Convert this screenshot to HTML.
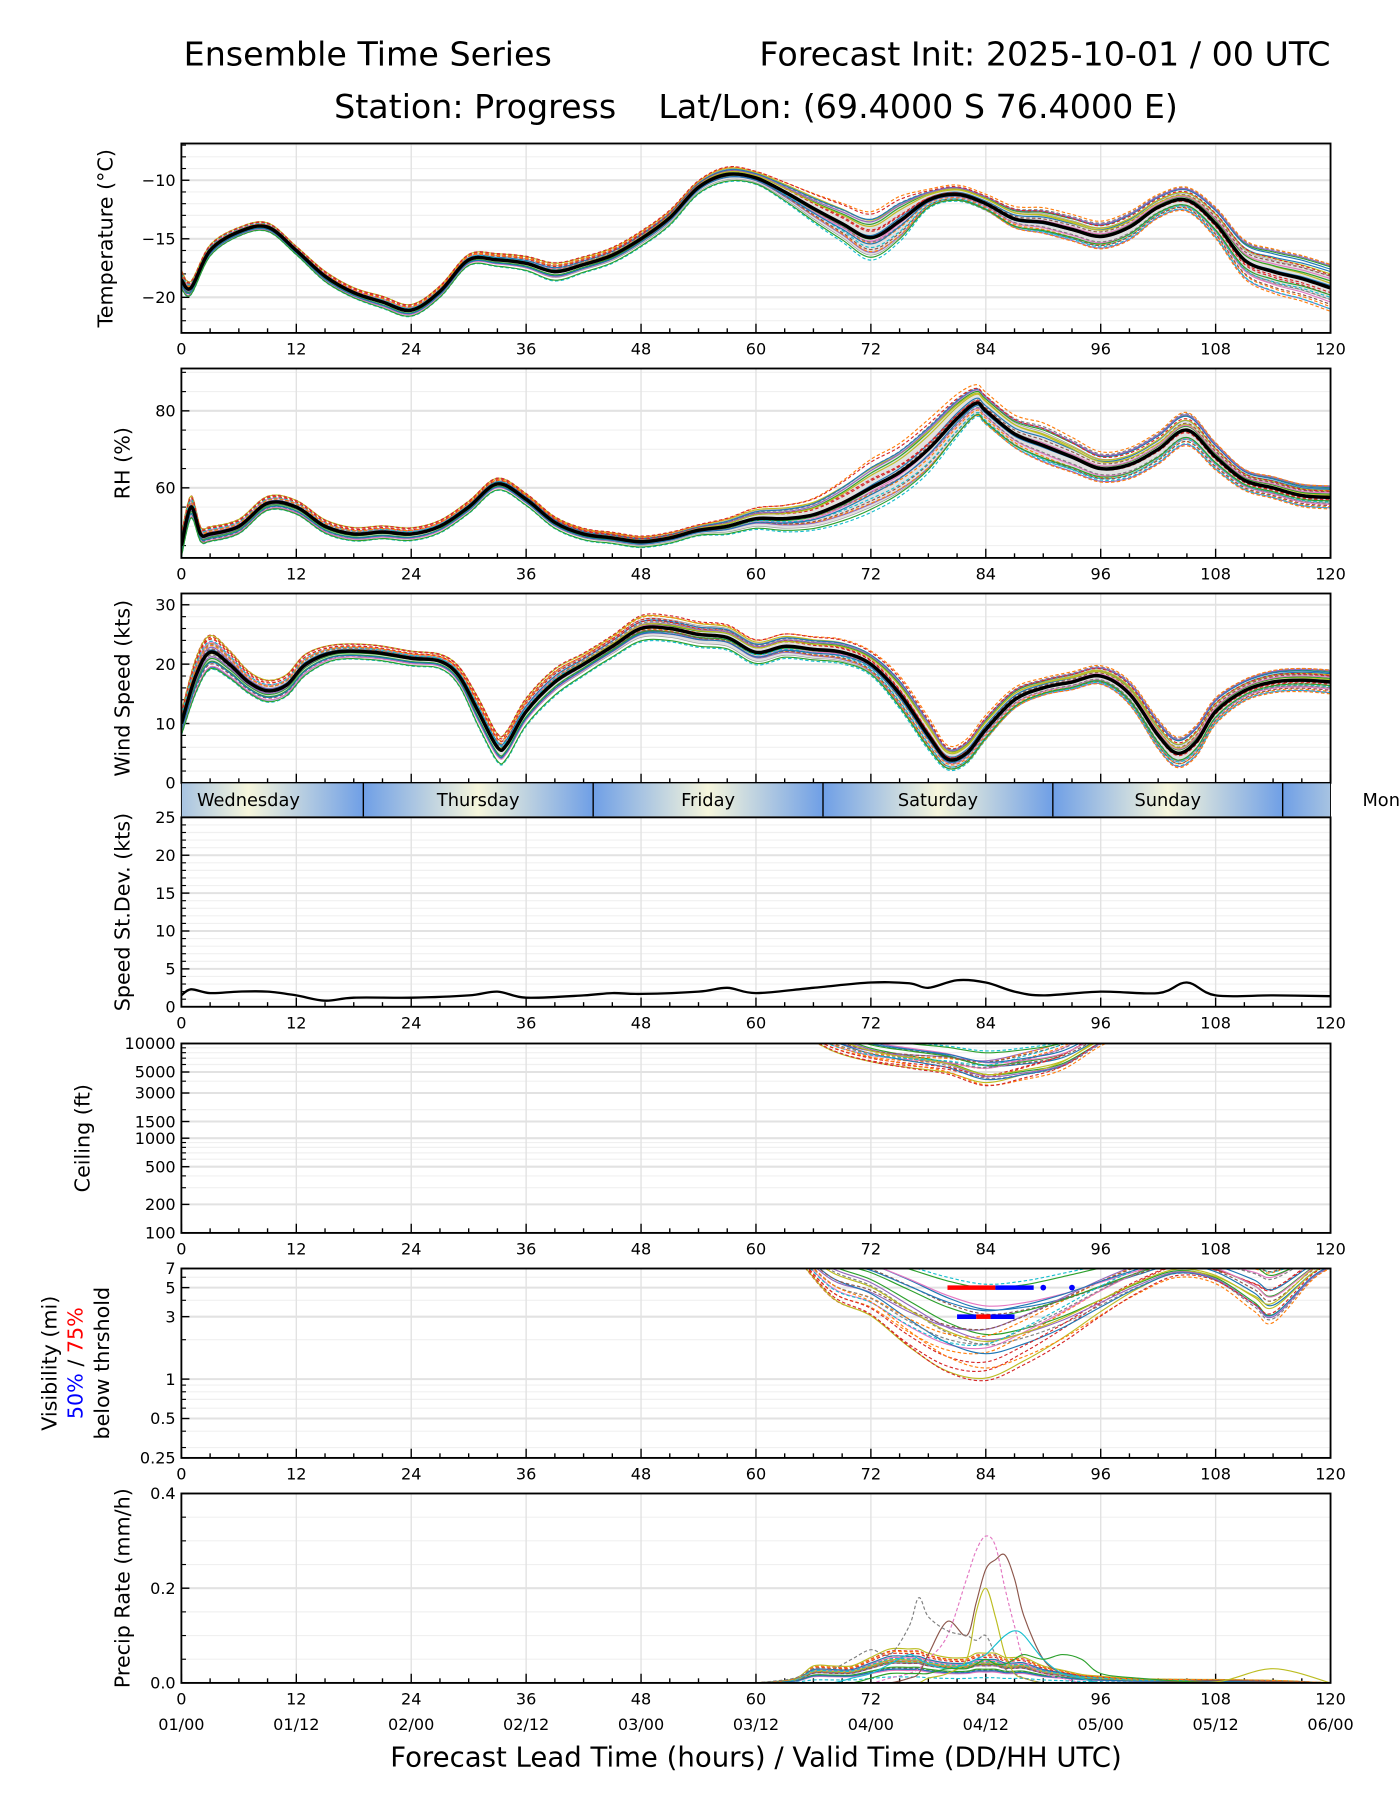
<!DOCTYPE html>
<html><head><meta charset="utf-8"><style>
html,body{margin:0;padding:0;background:#fff;}
svg{display:block;font-family:"DejaVu Sans","Liberation Sans",sans-serif;}
</style></head><body>
<svg id="chart" width="1400" height="1800" viewBox="0 0 1219.5 1568" preserveAspectRatio="none" xmlns="http://www.w3.org/2000/svg">
<rect x="0" y="0" width="1225" height="1575" fill="#fff"/>
<text x="160" y="57" font-size="29">Ensemble Time Series</text>
<text x="1159" y="57" font-size="29" text-anchor="end">Forecast Init: 2025-10-01 / 00 UTC</text>
<text x="291" y="103" font-size="29">Station: Progress</text>
<text x="1026" y="103" font-size="29" text-anchor="end">Lat/Lon: (69.4000 S 76.4000 E)</text>
<g id="root"></g>
</svg>
<script>
// ---------- DATA ----------
const xTicks=[0,12,24,36,48,60,72,84,96,108,120];
const validLabels=["01/00","01/12","02/00","02/12","03/00","03/12","04/00","04/12","05/00","05/12","06/00"];
const dayNames=["Wednesday","Thursday","Friday","Saturday","Sunday","Monday"];
const dayCenters=[7,31,55,79,103,127];

const tempHours=[0,1,3,6,9,12,15,18,21,24,27,30,33,36,39,42,45,48,51,54,57,60,63,66,69,72,75,78,81,84,87,90,93,96,99,102,105,108,111,114,117,120];
const tempMean=[-18.5,-19.2,-16,-14.4,-14,-16,-18.2,-19.6,-20.4,-21.1,-19.5,-16.8,-16.8,-17.1,-17.8,-17.2,-16.4,-15.0,-13.2,-10.6,-9.5,-9.8,-11,-12.4,-13.7,-14.9,-13.5,-11.7,-11.2,-12.0,-13.3,-13.6,-14.2,-14.8,-14.0,-12.3,-11.7,-13.7,-16.8,-17.8,-18.4,-19.2];
const tempSpread=[0.8,0.6,0.5,0.4,0.4,0.4,0.5,0.5,0.6,0.6,0.6,0.6,0.7,0.8,1.0,0.9,0.9,0.9,0.9,0.8,0.9,0.8,1.2,1.8,2.4,3.0,2.8,1.2,1.0,1.0,1.3,1.5,1.5,1.5,1.5,1.2,1.2,1.5,1.8,2.0,2.0,2.0];

const rhHours=[0,1,2,3,6,9,12,15,18,21,24,27,30,33,36,39,42,45,48,51,54,57,60,63,66,69,72,75,78,81,83,84,87,90,93,96,99,102,105,108,111,114,117,120];
const rhMean=[45,55,48,48,50,56,55,50,48,48.5,48,50,55,61,57,51,48,47,46,47,49,50,52,52,53,56,60,64,70,78,82,80,74,71,68,65,66,70,75,68,62,60,58,57.5];
const rhSpread=[3,3,2,2,2,2,2,2,2,2,2,2,2,2,2,2,2,2,2,2,2,3,4,5,6,8,10,10,10,8,6,6,6,7,6,5,5,5,5,4,3,3,3,3];

const wsHours=[0,1.5,3,5,7,9,11,13,16,20,24,27,29,31,33,34,36,39,42,45,48,51,54,57,60,63,66,69,72,75,78,80,82,84,87,90,93,96,99,102,104,106,108,111,114,117,120];
const wsMean=[10,18,22,20,17,15.5,16.5,20,22,22,21,20.5,18,12,6,6.5,12,17,20,23,26,26,25,24.5,22,23,22.5,22,20,15,8,4,5,9,14,16,17,18,15,8,5,7,12,15.5,17,17.3,17];
const wsSpread=[2,3,3,2.5,2,2,2,2,1.5,1.5,1.5,1.5,2,3,3,3,3,3,2.5,2.5,3,3,3,3,3,3,3,3,3,4,4,3,3,3,2.5,2,2,2,2.5,3,3,3,2.5,2,2,2,2];

const sdHours=[0,1,3,6,9,12,15,18,24,30,33,36,42,45,48,54,57,60,66,72,76,78,81,84,87,90,96,102,105,108,114,120];
const sdMean=[1.5,2.3,1.8,2,2,1.5,0.8,1.2,1.2,1.5,2,1.2,1.5,1.8,1.7,2,2.5,1.8,2.5,3.2,3.1,2.5,3.5,3.2,2,1.5,2,1.8,3.2,1.5,1.5,1.4];

const ceilHours=[64,68,72,76,80,84,88,92,96,100];
const ceilLow=[14000,8000,6000,5000,4200,3000,3600,4800,9000,14000];
const ceilHigh=[20000,16000,12000,11000,10500,10000,11000,13000,18000,20000];

const visHours=[64,68,72,76,80,84,88,92,96,100,104,108,112,114,118,120];
const visLow=[9,4,2.8,1.5,0.9,0.75,1.0,1.5,2.5,4,5.5,5,3,2.5,5.5,7];
const visHigh=[12,10,9,8,7,6.5,7,8,9,10,11,10,10,9,10,10];
const visBars5=[[80,85,"red"],[85,89,"blue"]];
const visBars3=[[81,83,"blue"],[83,84.5,"red"],[84.5,87,"blue"]];
const visDots=[[90,5],[93,5]];

const prHours=[60,64,66,68,70,72,74,76,77,78,80,82,83,84,85,86,87,88,90,92,94,96,100,108,114,120];
const prBase=[0,0.005,0.02,0.02,0.02,0.03,0.04,0.04,0.04,0.035,0.03,0.03,0.035,0.035,0.035,0.03,0.03,0.03,0.02,0.015,0.01,0.008,0.005,0.004,0.003,0];
const prPink=[0,0,0,0,0,0,0.01,0.02,0.03,0.05,0.1,0.22,0.28,0.31,0.29,0.2,0.12,0.05,0.02,0.01,0,0,0,0,0,0];
const prBrown=[0,0,0,0,0,0,0,0.01,0.02,0.06,0.13,0.1,0.17,0.24,0.26,0.27,0.22,0.14,0.05,0.02,0.01,0,0,0.005,0.003,0];
const prOlive=[0,0,0,0,0,0,0,0,0,0.01,0.02,0.05,0.15,0.2,0.14,0.06,0.02,0.01,0,0,0,0,0,0.002,0.03,0];
const prGray=[0,0.01,0.03,0.03,0.05,0.07,0.06,0.12,0.18,0.14,0.11,0.1,0.09,0.1,0.06,0.03,0.02,0.01,0,0,0,0,0,0,0,0];
const prCyan=[0,0,0,0,0.01,0.02,0.04,0.06,0.05,0.04,0.03,0.04,0.05,0.06,0.08,0.1,0.11,0.1,0.05,0.02,0.01,0,0,0,0,0];
const prGreen=[0,0,0,0,0,0.01,0.02,0.02,0.02,0.02,0.03,0.03,0.04,0.05,0.04,0.04,0.05,0.06,0.05,0.06,0.05,0.02,0.01,0,0,0];

// ---------- LAYOUT ----------
const X0=158,X1=1159;
const panels={temp:[125,290],rh:[321,486],ws:[517,682],sd:[712,877],ceil:[909,1074],vis:[1105,1270],pr:[1301,1466]};
const tab=["#1f77b4","#ff7f0e","#2ca02c","#d62728","#9467bd","#8c564b","#e377c2","#7f7f7f","#bcbd22","#17becf"];
const wA=[-0.9,0.8,-0.4,1.0,0.3,-0.7,0.6,-0.2,0.95,-1.0,0.1,0.5,-0.55,0.75,-0.3,0.2,-0.85,0.45,-0.1,0.65,-0.6,0.35,-0.95,0.85];
const wB=[0.7,-0.8,0.9,-0.3,-0.9,0.5,-0.6,1.0,0.2,-0.4,0.8,-1.0,0.3,-0.2,0.95,-0.7,0.4,-0.5,0.6,-0.9,0.1,1.0,-0.3,0.55];
const NS="http://www.w3.org/2000/svg";
const root=document.getElementById('root');
function mk(tag,attrs,parent){const e=document.createElementNS(NS,tag);for(const k in attrs)e.setAttribute(k,attrs[k]);(parent||root).appendChild(e);return e;}
const xs=h=>X0+h*(X1-X0)/120;
function lin(lo,hi,t,b){return v=>b-(v-lo)/(hi-lo)*(b-t);}
function logs(lo,hi,t,b){return v=>b-(Math.log10(v)-Math.log10(lo))/(Math.log10(hi)-Math.log10(lo))*(b-t);}
function smooth(pts){if(!pts.length)return"";let d="M"+pts[0][0].toFixed(1)+","+pts[0][1].toFixed(1);
for(let i=0;i<pts.length-1;i++){const p0=pts[Math.max(0,i-1)],p1=pts[i],p2=pts[i+1],p3=pts[Math.min(pts.length-1,i+2)];
const c1=[p1[0]+(p2[0]-p0[0])/6,p1[1]+(p2[1]-p0[1])/6],c2=[p2[0]-(p3[0]-p1[0])/6,p2[1]-(p3[1]-p1[1])/6];
d+="C"+c1[0].toFixed(1)+","+c1[1].toFixed(1)+" "+c2[0].toFixed(1)+","+c2[1].toFixed(1)+" "+p2[0].toFixed(1)+","+p2[1].toFixed(1);}return d;}
const defs=mk('defs',{});
function clip(id,t,b){const c=mk('clipPath',{id:id},defs);mk('rect',{x:X0,y:t,width:X1-X0,height:b-t},c);}

function frame(name,t,b,yt,ys,fmt,minorT,labelX,labelLines,xlabels){
  const g=mk('g',{});
  
  
  for(const v of minorT){const y=ys(v);mk('line',{x1:X0,x2:X1,y1:y,y2:y,stroke:'#f0f0f0','stroke-width':1},g);mk('line',{x1:X0,x2:X0+4,y1:y,y2:y,stroke:'#000','stroke-width':1},g);}
  for(const h of xTicks){mk('line',{x1:xs(h),x2:xs(h),y1:t,y2:b,stroke:'#e2e2e2','stroke-width':1.2},g);}
  for(const v of yt){const y=ys(v);mk('line',{x1:X0,x2:X1,y1:y,y2:y,stroke:'#e2e2e2','stroke-width':1.8},g);
    mk('line',{x1:X0,x2:X0+7,y1:y,y2:y,stroke:'#000','stroke-width':1.2},g);
    const tx=mk('text',{x:X0-5,y:y+5,'font-size':14,'text-anchor':'end'},g);tx.textContent=fmt(v);
    
    }
  for(let h=0;h<=120;h+=3){const L=h%12==0?8:4;mk('line',{x1:xs(h),x2:xs(h),y1:b,y2:b-L,stroke:'#000','stroke-width':1.2},g);}
  if(xlabels){for(const h of xTicks){const tx=mk('text',{x:xs(h),y:b+19,'font-size':14,'text-anchor':'middle'},g);tx.textContent=h;
    
    }}
  const lab=mk('text',{transform:`translate(${labelX},${(t+b)/2}) rotate(-90)`,'font-size':18,'text-anchor':'middle'},g);
  
  
  labelLines(lab);
  return g;
}
function border(t,b){mk('rect',{x:X0,y:t,width:X1-X0,height:b-t,fill:'none',stroke:'#000','stroke-width':1.6});}
function members(name,hours,fn,ys,cid,n){
  const g=mk('g',{'clip-path':`url(#${cid})`});
  
  
  for(let i=0;i<n;i++){
    const pts=hours.map((h,k)=>[xs(h),ys(fn(i,k,h))]);
    const p=mk('path',{d:smooth(pts),fill:'none',stroke:tab[i%10],'stroke-width':1,'stroke-dasharray':i%2?'3,2':'none'},g);
    
    
  }
  return g;
}
function ensemble(name,hours,mean,spread,ys,cid){
  const wt=(i,h)=>wA[i]*(1-h/120)+wB[i]*(h/120);
  const up=hours.map((h,k)=>[xs(h),ys(mean[k]+0.5*spread[k])]);
  const dn=hours.map((h,k)=>[xs(h),ys(mean[k]-0.5*spread[k])]).reverse();
  const band=mk('path',{d:smooth(up)+"L"+smooth(dn).slice(1)+"Z",fill:'#d9d9d9','fill-opacity':0.8,stroke:'#999','stroke-width':0.6,'clip-path':`url(#${cid})`});
  
  
  members(name,hours,(i,k,h)=>mean[k]+spread[k]*wt(i,h),ys,cid,24);
  const m=mk('path',{d:smooth(hours.map((h,k)=>[xs(h),ys(mean[k])])),fill:'none',stroke:'#000','stroke-width':3,'clip-path':`url(#${cid})`});
  
  
}
const rng=(a,b,s)=>{const r=[];for(let v=a;v<=b+1e-9;v+=s)r.push(+v.toFixed(3));return r;};

// Temperature
{const [t,b]=panels.temp;const ys=lin(-23.04,-6.86,t,b);clip('cT',t,b);
frame('temperature',t,b,[-10,-15,-20],ys,v=>"\u2212"+Math.abs(v),rng(-22,-7,1),98,l=>l.textContent="Temperature (°C)",true);
ensemble('temperature',tempHours,tempMean,tempSpread,ys,'cT');border(t,b);}
// RH
{const [t,b]=panels.rh;const ys=lin(41.8,91.0,t,b);clip('cR',t,b);
frame('rh',t,b,[60,80],ys,v=>v,rng(45,90,5),113,l=>l.textContent="RH (%)",true);
ensemble('rh',rhHours,rhMean,rhSpread,ys,'cR');border(t,b);}
// Wind
{const [t,b]=panels.ws;const ys=lin(0,31.9,t,b);clip('cW',t,b);
frame('wind-speed',t,b,[0,10,20,30],ys,v=>v,rng(2,30,2),113,l=>l.textContent="Wind Speed (kts)",false);
ensemble('wind-speed',wsHours,wsMean,wsSpread,ys,'cW');border(t,b);}
// Day bar
{const t=682,b=712;const g=mk('g',{});


const gr=mk('linearGradient',{id:'dayG',x1:0,x2:1,y1:0,y2:0},defs);
mk('stop',{offset:'0','stop-color':'#6f9fe6'},gr);mk('stop',{offset:'0.5','stop-color':'#f6f6dc'},gr);mk('stop',{offset:'1','stop-color':'#6f9fe6'},gr);
clip('cD',t,b);
const gc=mk('g',{'clip-path':'url(#cD)'},g);
dayCenters.forEach((c,i)=>{const r=mk('rect',{x:xs(c-12),y:t,width:xs(c+12)-xs(c-12),height:b-t,fill:'url(#dayG)'},gc);


if(c-12>0)mk('line',{x1:xs(c-12),x2:xs(c-12),y1:t,y2:b,stroke:'#000','stroke-width':1.2},gc);});
dayCenters.forEach((c,i)=>{const tx=mk('text',{x:xs(c),y:t+20,'font-size':15.5,'text-anchor':'middle'},g);tx.textContent=dayNames[i];

});
mk('rect',{x:X0,y:t,width:X1-X0,height:b-t,fill:'none',stroke:'#000','stroke-width':0.8},g);}
// StDev
{const [t,b]=panels.sd;const ys=lin(0,25,t,b);clip('cS',t,b);
frame('speed-stdev',t,b,[0,5,10,15,20,25],ys,v=>v,rng(1,24,1),113,l=>l.textContent="Speed St.Dev. (kts)",true);
const p=mk('path',{d:smooth(sdHours.map((h,k)=>[xs(h),ys(sdMean[k])])),fill:'none',stroke:'#000','stroke-width':2,'clip-path':'url(#cS)'});


border(t,b);}
// Ceiling
{const [t,b]=panels.ceil;const ys=logs(100,10000,t,b);clip('cC',t,b);
frame('ceiling',t,b,[10000,5000,3000,1500,1000,500,200,100],ys,v=>v,[200,300,400,500,600,700,800,900,2000,3000,4000,5000,6000,7000,8000,9000],78,l=>l.textContent="Ceiling (ft)",true);
members('ceiling',ceilHours,(i,k)=>{const w=(wA[i]+1)/2*(1-k/10)+(wB[i]+1)/2*(k/10);return Math.pow(10,Math.log10(ceilHigh[k])+w*(Math.log10(ceilLow[k])-Math.log10(ceilHigh[k])));},ys,'cC',30);
border(t,b);}
// Visibility
{const [t,b]=panels.vis;const ys=logs(0.25,7,t,b);clip('cV',t,b);
frame('visibility',t,b,[7,5,3,1,0.5,0.25],ys,v=>v,[0.3,0.4,0.6,0.7,0.8,0.9,2,4,6],49,l=>{l.textContent="Visibility (mi)";},true);
const l2=mk('text',{transform:`translate(72,${(t+b)/2}) rotate(-90)`,'font-size':18,'text-anchor':'middle'});


const s1=mk('tspan',{fill:'blue'},l2);s1.textContent="50%";const s2=mk('tspan',{},l2);s2.textContent=" / ";const s3=mk('tspan',{fill:'red'},l2);s3.textContent="75%";
const l3=mk('text',{transform:`translate(95,${(t+b)/2}) rotate(-90)`,'font-size':18,'text-anchor':'middle'});l3.textContent="below thrshold";


members('visibility',visHours,(i,k)=>{const w=(wA[i]+1)/2*(1-k/16)+(wB[i]+1)/2*(k/16);return Math.pow(10,Math.log10(visHigh[k])+w*(Math.log10(visLow[k])-Math.log10(visHigh[k])));},ys,'cV',30);
for(const [a,z,c] of visBars5){const ln=mk('line',{x1:xs(a),x2:xs(z),y1:ys(5),y2:ys(5),stroke:c,'stroke-width':4});

}
for(const [a,z,c] of visBars3){const ln=mk('line',{x1:xs(a),x2:xs(z),y1:ys(3),y2:ys(3),stroke:c,'stroke-width':4});

}
for(const [h,v] of visDots){const d=mk('circle',{cx:xs(h),cy:ys(v),r:2.5,fill:'blue'});

}
border(t,b);}
// Precip
{const [t,b]=panels.pr;const ys=lin(0,0.4,t,b);clip('cP',t,b);
frame('precip',t,b,[0,0.2,0.4],ys,v=>v.toFixed(1),rng(0.05,0.35,0.05),113,l=>l.textContent="Precip Rate (mm/h)",true);
members('precip',prHours,(i,k)=>prBase[k]*((wA[i]+1.2)/1.5+(wB[i]+1)*0.3),ys,'cP',22);
const named=[[prPink,tab[6],1],[prBrown,tab[5],0],[prOlive,tab[8],0],[prGray,tab[7],1],[prCyan,tab[9],0],[prGreen,tab[2],0]];
const gN=mk('g',{'clip-path':'url(#cP)'});
for(const [arr,c,d] of named){const p=mk('path',{d:smooth(prHours.map((h,k)=>[xs(h),ys(arr[k])])),fill:'none',stroke:c,'stroke-width':1,'stroke-dasharray':d?'3,2':'none'},gN);

}
border(t,b);
xTicks.forEach((h,i)=>{const tx=mk('text',{x:xs(h),y:b+41,'font-size':14,'text-anchor':'middle'});tx.textContent=validLabels[i];

});
const xt=mk('text',{x:(X0+X1)/2,y:1539,'font-size':24,'text-anchor':'middle'});xt.textContent="Forecast Lead Time (hours) / Valid Time (DD/HH UTC)";

}
</script>
</body></html>
